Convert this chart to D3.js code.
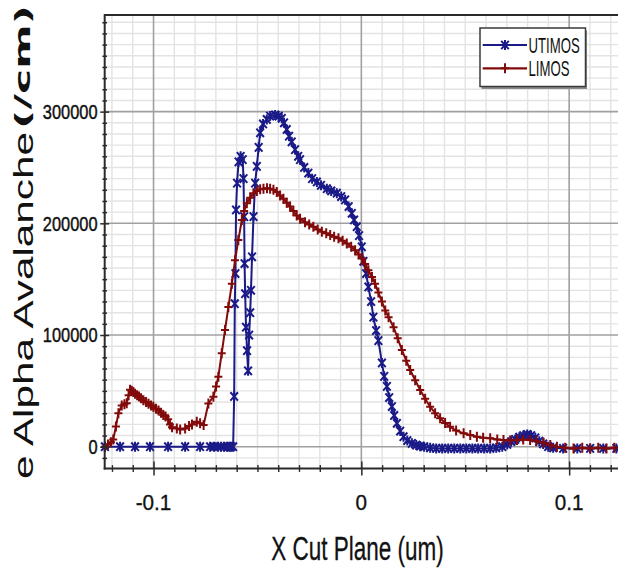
<!DOCTYPE html>
<html>
<head>
<meta charset="utf-8">
<script src="https://cdn.jsdelivr.net/npm/d3@7"></script>
<style>
  body { margin: 0; background: #fff; }
  svg { display: block; }
  text { font-family: "Liberation Sans", Arial, sans-serif; fill: #111; }
</style>
</head>
<body>
<svg id="chart" width="618" height="575"></svg>
<script>
// Impact-ionisation (alpha avalanche) along the X cut plane, two devices.
const xTicks = [-0.1, 0, 0.1];
const xTickLabels = ["-0.1", "0", "0.1"];
const yTicks = [0, 100000, 200000, 300000];
const yTickLabels = ["0", "100000", "200000", "300000"];
const seriesNames = ["UTIMOS", "LIMOS"];

// UTIMOS: position (um) and avalanche rate (/cm)
const utimosX = [
  -0.1234, -0.1161, -0.1089, -0.1017, -0.0930, -0.0848, -0.0776, -0.0728, -0.0709, -0.0689,
  -0.0675, -0.0661, -0.0646, -0.0636, -0.0627, -0.0617, -0.0612, -0.0609, -0.0606, -0.0603,
  -0.0598, -0.0591, -0.0581, -0.0571, -0.0567, -0.0564, -0.0562, -0.0559, -0.0555, -0.0550,
  -0.0545, -0.0540, -0.0535, -0.0531, -0.0526, -0.0519, -0.0511, -0.0503, -0.0494, -0.0487,
  -0.0473, -0.0455, -0.0439, -0.0415, -0.0398, -0.0383, -0.0372, -0.0359, -0.0348, -0.0335,
  -0.0319, -0.0304, -0.0295, -0.0275, -0.0255, -0.0237, -0.0214, -0.0194, -0.0166, -0.0145,
  -0.0118, -0.0097, -0.0078, -0.0061, -0.0046, -0.0035, -0.0022, -0.0011, 0.0002, 0.0010,
  0.0023, 0.0034, 0.0047, 0.0058, 0.0071, 0.0082, 0.0099, 0.0110, 0.0123, 0.0134,
  0.0147, 0.0158, 0.0171, 0.0187, 0.0203, 0.0221, 0.0243, 0.0264, 0.0283, 0.0302,
  0.0331, 0.0360, 0.0389, 0.0418, 0.0447, 0.0476, 0.0505, 0.0534, 0.0562, 0.0591,
  0.0620, 0.0649, 0.0678, 0.0702, 0.0721, 0.0740, 0.0760, 0.0779, 0.0798, 0.0817,
  0.0837, 0.0856, 0.0875, 0.0899, 0.0923, 0.0971, 0.1039, 0.1101, 0.1164, 0.1227
];
const utimosY = [
  0, 0, 0, 0, 0, 0, 0, 0, 0, 0,
  0, 0, 0, 0, 0, 0, 45000, 128000, 155000, 212000,
  236000, 255000, 260000, 257000, 240000, 206000, 164000, 137000, 107000, 86000,
  68000, 100000, 120000, 140000, 170000, 206000, 236000, 251000, 268000, 281000,
  289000, 293000, 296000, 297000, 296000, 294000, 290000, 284000, 278000, 273000,
  266000, 260000, 257000, 250000, 245000, 240000, 237000, 234000, 231000, 229000,
  227000, 224000, 221000, 215000, 209000, 203000, 197000, 189000, 179000, 166000,
  155000, 143000, 130000, 116000, 104000, 95000, 75000, 63000, 54000, 44000,
  36000, 28000, 21000, 14000, 9000, 5500, 3000, 1500, 500, 0,
  -1000, -1500, -1500, -1500, -1500, -1500, -1500, -1500, -1500, -1500,
  -1500, -1000, 0, 2000, 4500, 6500, 8500, 10000, 11000, 10000,
  8000, 5000, 2500, 0, -1000, -1500, -1500, -1500, -1500, -1500
];

// LIMOS: position (um) and avalanche rate (/cm)
const limosX = [
  -0.1234, -0.1219, -0.1205, -0.1194, -0.1181, -0.1169, -0.1153, -0.1140, -0.1129, -0.1120,
  -0.1113, -0.1105, -0.1097, -0.1089, -0.1079, -0.1070, -0.1060, -0.1049, -0.1036, -0.1024,
  -0.1012, -0.1001, -0.0988, -0.0976, -0.0964, -0.0953, -0.0942, -0.0930, -0.0921, -0.0911,
  -0.0888, -0.0872, -0.0848, -0.0829, -0.0815, -0.0792, -0.0776, -0.0759, -0.0736, -0.0712,
  -0.0699, -0.0688, -0.0672, -0.0656, -0.0640, -0.0623, -0.0608, -0.0592, -0.0575, -0.0564,
  -0.0551, -0.0535, -0.0519, -0.0503, -0.0487, -0.0471, -0.0454, -0.0439, -0.0423, -0.0407,
  -0.0391, -0.0375, -0.0359, -0.0343, -0.0327, -0.0311, -0.0295, -0.0271, -0.0251, -0.0231,
  -0.0210, -0.0190, -0.0169, -0.0150, -0.0131, -0.0110, -0.0090, -0.0070, -0.0049, -0.0030,
  -0.0013, 0.0002, 0.0018, 0.0034, 0.0051, 0.0066, 0.0082, 0.0099, 0.0115, 0.0131,
  0.0155, 0.0175, 0.0195, 0.0216, 0.0235, 0.0259, 0.0283, 0.0307, 0.0331, 0.0355,
  0.0379, 0.0403, 0.0427, 0.0456, 0.0492, 0.0524, 0.0556, 0.0586, 0.0620, 0.0654,
  0.0684, 0.0716, 0.0749, 0.0779, 0.0812, 0.0842, 0.0877, 0.0909, 0.0941, 0.0981,
  0.1021, 0.1063, 0.1101, 0.1140, 0.1179, 0.1217
];
const limosY = [
  0, 2000, 4000, 6500, 18000, 30000, 37000, 38000, 39000, 46000,
  51000, 50000, 49000, 47500, 46000, 45000, 43500, 41500, 40000, 38500,
  37000, 35800, 34000, 32500, 30500, 28500, 27000, 24500, 20000, 17500,
  16400, 15500, 16400, 18500, 20000, 22400, 21000, 19400, 38800, 44800,
  54000, 62700, 83600, 104500, 125000, 146000, 167000, 185000, 203000, 211000,
  218000, 223000, 227000, 229000, 230500, 231000, 231500, 231000, 230000, 228000,
  225000, 222000, 218500, 215000, 211000, 207000, 204000, 201000, 199000, 197000,
  194500, 192500, 191000, 189500, 188000, 186600, 184500, 182000, 179000, 176000,
  172000, 168700, 163500, 158000, 152000, 146000, 138000, 130000, 122000, 116000,
  107000, 97000, 86600, 77000, 68700, 59500, 50800, 43000, 35800, 30000,
  25400, 21300, 17900, 14500, 12000, 10500, 9000, 8000, 7500, 6500,
  6000, 5500, 6000, 6500, 6000, 5000, 3600, 1500, 0, -1000,
  -1500, -1000, -1500, -1000, -1500, -1000
];

const colors = { UTIMOS: "#1a1a88", LIMOS: "#820a0a" };

const svg = d3.select("#chart");
const W = 618, H = 575;
const plot = { left: 104.7, right: 618, top: 15, bottom: 468.5 };

const x = d3.scaleLinear().domain([-0.1235, 0.1235]).range([plot.left, plot.right]);
const y = d3.scaleLinear().domain([-19500, 386500]).range([plot.bottom, plot.top]);

svg.append("rect").attr("width", W).attr("height", H).attr("fill", "#fff");

// grid
const xMinor = d3.range(-12, 13).map(d => d / 100).filter(v => !xTicks.some(t => Math.abs(t - v) < 1e-9));
const yMinor = d3.range(-1, 39).map(d => d * 10000).filter(v => !yTicks.includes(v));
const grid = svg.append("g");
grid.selectAll(".gvx").data(xMinor).join("line")
  .attr("x1", d => x(d)).attr("x2", d => x(d))
  .attr("y1", plot.top).attr("y2", plot.bottom)
  .attr("stroke", "#e3e3e3").attr("stroke-width", 1.4);
grid.selectAll(".gvy").data(yMinor).join("line")
  .attr("y1", d => y(d)).attr("y2", d => y(d))
  .attr("x1", plot.left).attr("x2", plot.right)
  .attr("stroke", "#e3e3e3").attr("stroke-width", 1.4);
grid.selectAll(".gmx").data(xTicks).join("line")
  .attr("x1", d => x(d)).attr("x2", d => x(d))
  .attr("y1", plot.top).attr("y2", plot.bottom)
  .attr("stroke", "#a0a0a0").attr("stroke-width", 1.6);
grid.selectAll(".gmy").data(yTicks).join("line")
  .attr("y1", d => y(d)).attr("y2", d => y(d))
  .attr("x1", plot.left).attr("x2", plot.right)
  .attr("stroke", "#a0a0a0").attr("stroke-width", 1.6);

// series
const markerPaths = {
  UTIMOS: "M-3.8,-4.2L3.8,4.2M-3.8,4.2L3.8,-4.2M0,-5L0,5",
  LIMOS: "M-4,0L4,0M0,-5L0,5"
};
const series = [
  { name: "UTIMOS", xs: utimosX, ys: utimosY },
  { name: "LIMOS", xs: limosX, ys: limosY }
];
const line = d3.line().x(d => x(d[0])).y(d => y(d[1]));
series.forEach(s => {
  const pts = s.xs.map((v, i) => [v, s.ys[i]]);
  const g = svg.append("g");
  g.append("path").attr("d", line(pts)).attr("fill", "none")
    .attr("stroke", colors[s.name]).attr("stroke-width", 2);
  g.selectAll("path.m").data(pts).join("path").attr("class", "m")
    .attr("d", markerPaths[s.name])
    .attr("transform", d => `translate(${x(d[0])},${y(d[1])})`)
    .attr("fill", "none").attr("stroke", colors[s.name]).attr("stroke-width", 2);
});

// frame and axes
const axisColor = "#2a2a2a";
svg.append("line").attr("x1", plot.left).attr("x2", plot.right).attr("y1", plot.top).attr("y2", plot.top)
  .attr("stroke", axisColor).attr("stroke-width", 2);

const yAxis = svg.append("g").attr("transform", `translate(${plot.left},0)`)
  .call(d3.axisLeft(y).tickValues(yTicks).tickFormat("").tickSize(0));
yAxis.select(".domain").remove();
yAxis.selectAll(".tick line").attr("x1", -4.5).attr("x2", 4.5).attr("stroke", axisColor).attr("stroke-width", 1.5);
const yAxisMinor = svg.append("g").attr("transform", `translate(${plot.left},0)`)
  .call(d3.axisLeft(y).tickValues(yMinor).tickFormat("").tickSize(0));
yAxisMinor.select(".domain").remove();
yAxisMinor.selectAll(".tick line").attr("x1", -2.3).attr("x2", 2.3).attr("stroke", axisColor).attr("stroke-width", 1.5);

const xAxis = svg.append("g").attr("transform", `translate(0,${plot.bottom})`)
  .call(d3.axisBottom(x).tickValues(xTicks).tickFormat("").tickSize(0));
xAxis.select(".domain").remove();
xAxis.selectAll(".tick line").attr("y1", -7).attr("y2", 7).attr("stroke", axisColor).attr("stroke-width", 1.5);
const xAxisMinor = svg.append("g").attr("transform", `translate(0,${plot.bottom})`)
  .call(d3.axisBottom(x).tickValues(xMinor).tickFormat("").tickSize(0));
xAxisMinor.select(".domain").remove();
xAxisMinor.selectAll(".tick line").attr("y1", -3.4).attr("y2", 3.4).attr("stroke", axisColor).attr("stroke-width", 1.4);

svg.append("line").attr("x1", plot.left).attr("x2", plot.left).attr("y1", plot.top - 1).attr("y2", plot.bottom + 1)
  .attr("stroke", axisColor).attr("stroke-width", 2);
svg.append("line").attr("x1", plot.left - 1).attr("x2", plot.right).attr("y1", plot.bottom).attr("y2", plot.bottom)
  .attr("stroke", axisColor).attr("stroke-width", 2);

// tick labels
function label(tx, ty, str, size, sx, anchor) {
  return svg.append("text")
    .attr("transform", `translate(${tx},${ty}) scale(${sx},1)`)
    .attr("text-anchor", anchor).attr("font-size", size)
    .text(str);
}
yTicks.forEach((v, i) => label(97.5, y(v) + 7.3, yTickLabels[i], 20.5, 0.8, "end")
  .attr("stroke", "#111").attr("stroke-width", 0.45));
xTicks.forEach((v, i) => label(x(v), 510, xTickLabels[i], 22.5, 0.92, "middle")
  .attr("stroke", "#111").attr("stroke-width", 0.35));

// axis titles
label(357.5, 559.5, "X Cut Plane (um)", 33.8, 0.665, "middle").attr("stroke", "#111").attr("stroke-width", 0.3);
svg.append("text")
  .attr("transform", "translate(32.5,479) rotate(-90)")
  .attr("font-size", 28).attr("textLength", 347).attr("lengthAdjust", "spacingAndGlyphs")
  .text("e Alpha Avalanche");
svg.append("text")
  .attr("transform", "translate(29.5,129) rotate(-90)")
  .style("font-family", "'DejaVu Sans', sans-serif")
  .attr("font-size", 22).attr("font-weight", "bold").attr("fill", "#0c0c26")
  .attr("textLength", 124).attr("lengthAdjust", "spacingAndGlyphs")
  .text("(/cm)");

// legend
const lg = svg.append("g");
lg.append("rect").attr("x", 481.5).attr("y", 30.5).attr("width", 105.5).attr("height", 58.5).attr("fill", "#8a8a8a");
lg.append("rect").attr("x", 480).attr("y", 28).attr("width", 105.5).attr("height", 58.5)
  .attr("fill", "#fff").attr("stroke", "#3a3a3a").attr("stroke-width", 1.5);
const legendRows = [45, 68.3];
seriesNames.forEach((name, i) => {
  const ly = legendRows[i];
  lg.append("line").attr("x1", 482.7).attr("x2", 527).attr("y1", ly).attr("y2", ly)
    .attr("stroke", colors[name]).attr("stroke-width", 2.2);
  lg.append("path").attr("d", markerPaths[name]).attr("transform", `translate(505,${ly})`)
    .attr("fill", "none").attr("stroke", colors[name]).attr("stroke-width", 2);
  svg.append("text")
    .attr("transform", `translate(528.5,${ly + 7.7}) scale(0.61,1)`)
    .attr("font-size", 21.6).attr("fill", "#222").text(name);
});
</script>
</body>
</html>
